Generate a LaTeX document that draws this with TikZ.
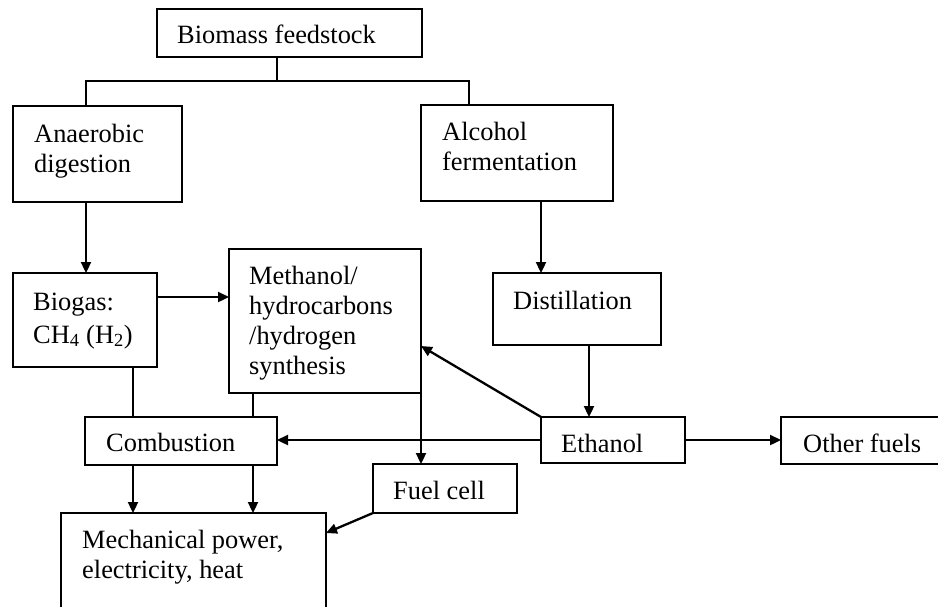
\documentclass[tikz,border=0pt]{standalone}
\usepackage{fontspec}
\setmainfont{Liberation Serif}
\usetikzlibrary{arrows.meta}
\tikzset{
  box/.style={draw, line width=2.3pt, inner sep=0pt, outer sep=0pt, rectangle},
  txt/.style={anchor=base west, align=left, inner sep=0pt,
    font=\fontsize{26.4}{30}\selectfont},
  link/.style={line width=2.3pt},
  arr/.style={line width=2.3pt, -{Triangle[length=11pt,width=10pt]}}
}
% \fbx{name}{x1}{y1}{x2}{y2}: framed box given by its corners (pixel units, y downwards)
\newcommand\fbx[5]{%
  \node[box, minimum width={(#4)-(#2)}, minimum height={(#5)-(#3)}]
    (#1) at ({((#2)+(#4))/2},{((#3)+(#5))/2}) {};}
\begin{document}
\begin{tikzpicture}[x=1pt,y=-1pt]
\useasboundingbox (0,0) rectangle (938,606);

% boxes
\fbx{bio}{157}{9}{422}{57}
\fbx{ana}{13}{106}{182}{202}
\fbx{alc}{421}{105}{613}{201}
\fbx{gas}{13}{273}{157}{367}
\fbx{meth}{229}{249}{421}{393}
\fbx{dist}{493}{273}{661}{345}
\fbx{comb}{85}{417}{277}{465}
\fbx{eth}{541}{417}{685}{463}
\fbx{other}{781}{417}{950}{464}
\fbx{fuel}{373}{464}{517}{513}
\fbx{mech}{61}{513}{326}{620}

% box texts (anchored at the baseline of their last line)
\node[txt] (bio-t) at (177,43) {Biomass feedstock};
\node[txt] (ana-t) at (34,172) {Anaerobic\\digestion};
\node[txt] (alc-t) at (442,170) {Alcohol\\fermentation};
\node[txt] (gas-t) at (33,343) {Biogas:\\[3pt]CH\textsubscript{4} (H\textsubscript{2})};
\node[txt] (meth-t) at (249,374) {Methanol/\\hydrocarbons\\/hydrogen\\synthesis};
\node[txt] (dist-t) at (513,309) {Distillation};
\node[txt] (comb-t) at (106,451) {Combustion};
\node[txt] (eth-t) at (561,452) {Ethanol};
\node[txt] (other-t) at (803,452) {Other fuels};
\node[txt] (fuel-t) at (393,499) {Fuel cell};
\node[txt] (mech-t) at (82,578) {Mechanical power,\\electricity, heat};

% split of the feedstock into the two routes
\coordinate (busM) at (277,81);
\coordinate (busL) at (86,81);
\coordinate (busR) at (469,81);
\draw[link] (busM |- bio.south) -- (busM);
\draw[link] (busL |- ana.north) -- (busL) -- (busR) -- (busR |- alc.north);

% anaerobic route
\draw[arr] (busL |- ana.south) -- (busL |- gas.north);
\draw[arr] ([yshift=23pt]gas.east) -- ([yshift=23pt]gas.east -| meth.west);
\draw[link] ([xshift=48pt]gas.south) -- ([xshift=48pt]gas.south |- comb.north);
\draw[link] ([xshift=-72pt]meth.south) -- ([xshift=-72pt]meth.south |- comb.north);
\draw[arr] (meth.south east) -- (meth.south east |- fuel.north);

% alcohol route
\draw[arr] ([xshift=24pt]alc.south) -- ([xshift=24pt]alc.south |- dist.north);
\draw[arr] ([xshift=12pt]dist.south) -- ([xshift=12pt]dist.south |- eth.north);
\draw[arr] (eth.north west) -- ([yshift=-25pt]meth.east);
\draw[arr] (eth.west) -- (eth.west -| comb.east);
\draw[arr] (eth.east) -- (eth.east -| other.west);

% end uses
\draw[arr] ([xshift=-48pt]comb.south) -- ([xshift=-48pt]comb.south |- mech.north);
\draw[arr] ([xshift=72pt]comb.south) -- ([xshift=72pt]comb.south |- mech.north);
\draw[arr] (fuel.south west) -- ([yshift=-20pt]mech.north east);
\end{tikzpicture}
\end{document}
